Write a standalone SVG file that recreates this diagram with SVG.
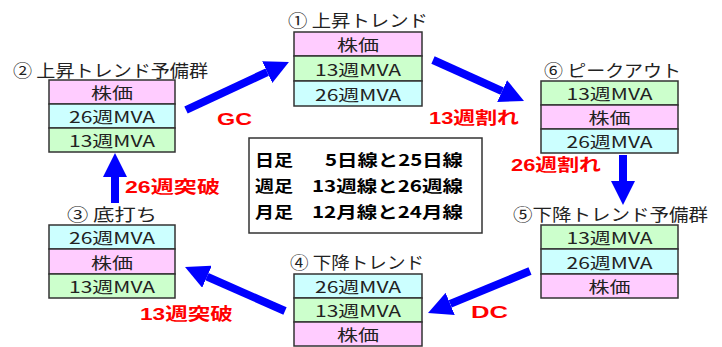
<svg xmlns="http://www.w3.org/2000/svg" width="722" height="347" viewBox="0 0 722 347">
<style>
.pk{fill:#FFCCFF;stroke:#333;stroke-width:1.5}
.gr{fill:#CCFFCC;stroke:#333;stroke-width:1.5}
.cy{fill:#CCFFFF;stroke:#333;stroke-width:1.5}
.bt{font-family:"Noto Sans CJK JP","Noto Sans",sans-serif;font-size:16px;fill:#222;text-anchor:middle;dominant-baseline:central}
.lb{font-family:"Noto Sans CJK JP","Noto Sans",sans-serif;font-size:17px;fill:#222}
.rd{font-family:"Liberation Sans","Noto Sans CJK JP",sans-serif;font-size:17px;font-weight:bold;fill:#FF0000}
.ct{font-family:"Noto Sans CJK JP","Noto Sans",sans-serif;font-size:16px;font-weight:bold;fill:#000}
.ar{stroke:#0000FF;stroke-width:8;fill:none;marker-end:url(#ah)}
</style>
<defs>
<marker id="ah" viewBox="0 0 10 10" refX="0" refY="5" markerWidth="3" markerHeight="3" orient="auto" markerUnits="strokeWidth">
<path d="M0,0 L10,5 L0,10 z" fill="#0000FF"/>
</marker>
</defs>
<rect width="722" height="347" fill="#fff"/>

<g id="n1">
<text class="lb" x="288" y="27" textLength="140" lengthAdjust="spacingAndGlyphs">① 上昇トレンド</text>
<rect class="pk" x="294" y="32" width="128" height="24"/>
<rect class="gr" x="294" y="56" width="128" height="25"/>
<rect class="cy" x="294" y="81" width="128" height="25"/>
<text class="bt" x="358" y="44" textLength="42" lengthAdjust="spacingAndGlyphs">株価</text>
<text class="bt" x="358" y="68.5" textLength="86" lengthAdjust="spacingAndGlyphs">13週MVA</text>
<text class="bt" x="358" y="93.5" textLength="86" lengthAdjust="spacingAndGlyphs">26週MVA</text>
</g>

<g id="n2">
<text class="lb" x="13" y="77" textLength="195" lengthAdjust="spacingAndGlyphs">② 上昇トレンド予備群</text>
<rect class="pk" x="49" y="80" width="126" height="24"/>
<rect class="cy" x="49" y="104" width="126" height="24"/>
<rect class="gr" x="49" y="128" width="126" height="24"/>
<text class="bt" x="112" y="92" textLength="42" lengthAdjust="spacingAndGlyphs">株価</text>
<text class="bt" x="112" y="116" textLength="86" lengthAdjust="spacingAndGlyphs">26週MVA</text>
<text class="bt" x="112" y="140" textLength="86" lengthAdjust="spacingAndGlyphs">13週MVA</text>
</g>

<g id="n6">
<text class="lb" x="544" y="77" textLength="137" lengthAdjust="spacingAndGlyphs">⑥ ピークアウト</text>
<rect class="gr" x="541" y="81" width="137" height="24"/>
<rect class="pk" x="541" y="105" width="137" height="24"/>
<rect class="cy" x="541" y="129" width="137" height="24"/>
<text class="bt" x="609.5" y="93" textLength="86" lengthAdjust="spacingAndGlyphs">13週MVA</text>
<text class="bt" x="609.5" y="117" textLength="42" lengthAdjust="spacingAndGlyphs">株価</text>
<text class="bt" x="609.5" y="141" textLength="86" lengthAdjust="spacingAndGlyphs">26週MVA</text>
</g>

<g id="n5">
<text class="lb" x="513" y="221" textLength="195" lengthAdjust="spacingAndGlyphs">⑤下降トレンド予備群</text>
<rect class="gr" x="541" y="225" width="137" height="24"/>
<rect class="cy" x="541" y="249" width="137" height="25"/>
<rect class="pk" x="541" y="274" width="137" height="24"/>
<text class="bt" x="609.5" y="237" textLength="86" lengthAdjust="spacingAndGlyphs">13週MVA</text>
<text class="bt" x="609.5" y="261.5" textLength="86" lengthAdjust="spacingAndGlyphs">26週MVA</text>
<text class="bt" x="609.5" y="286" textLength="42" lengthAdjust="spacingAndGlyphs">株価</text>
</g>

<g id="n4">
<text class="lb" x="290" y="269" textLength="134" lengthAdjust="spacingAndGlyphs">④ 下降トレンド</text>
<rect class="cy" x="294" y="274" width="128" height="24"/>
<rect class="gr" x="294" y="298" width="128" height="24"/>
<rect class="pk" x="294" y="322" width="128" height="24"/>
<text class="bt" x="358" y="286" textLength="86" lengthAdjust="spacingAndGlyphs">26週MVA</text>
<text class="bt" x="358" y="310" textLength="86" lengthAdjust="spacingAndGlyphs">13週MVA</text>
<text class="bt" x="358" y="334" textLength="42" lengthAdjust="spacingAndGlyphs">株価</text>
</g>

<g id="n3">
<text class="lb" x="67" y="221" textLength="90" lengthAdjust="spacingAndGlyphs">③ 底打ち</text>
<rect class="cy" x="49" y="225" width="126" height="24"/>
<rect class="pk" x="49" y="249" width="126" height="25"/>
<rect class="gr" x="49" y="274" width="126" height="24"/>
<text class="bt" x="112" y="237" textLength="86" lengthAdjust="spacingAndGlyphs">26週MVA</text>
<text class="bt" x="112" y="261.5" textLength="42" lengthAdjust="spacingAndGlyphs">株価</text>
<text class="bt" x="112" y="286" textLength="86" lengthAdjust="spacingAndGlyphs">13週MVA</text>
</g>

<g id="legend">
<rect x="249" y="138" width="233" height="95" fill="#fff" stroke="#333" stroke-width="1.5"/>
<text class="ct" x="255" y="166" textLength="38" lengthAdjust="spacingAndGlyphs">日足</text>
<text class="ct" x="325" y="166" textLength="138" lengthAdjust="spacingAndGlyphs">5日線と25日線</text>
<text class="ct" x="255" y="192" textLength="38" lengthAdjust="spacingAndGlyphs">週足</text>
<text class="ct" x="312" y="192" textLength="151" lengthAdjust="spacingAndGlyphs">13週線と26週線</text>
<text class="ct" x="255" y="218" textLength="38" lengthAdjust="spacingAndGlyphs">月足</text>
<text class="ct" x="312" y="218" textLength="151" lengthAdjust="spacingAndGlyphs">12月線と24月線</text>
</g>

<g id="connectors">
<line class="ar" x1="186" y1="110" x2="267.2" y2="72.1"/>
<line class="ar" x1="433" y1="60" x2="502.1" y2="91.1"/>
<line class="ar" x1="623" y1="155" x2="623" y2="181"/>
<line class="ar" x1="530" y1="271" x2="450.2" y2="303.9"/>
<line class="ar" x1="285" y1="311" x2="207" y2="276.7"/>
<line class="ar" x1="115" y1="203" x2="115" y2="177"/>
<text class="rd" x="217" y="125" textLength="35" lengthAdjust="spacingAndGlyphs">GC</text>
<text class="rd" x="429" y="124" textLength="90" lengthAdjust="spacingAndGlyphs">13週割れ</text>
<text class="rd" x="511" y="171" textLength="90" lengthAdjust="spacingAndGlyphs">26週割れ</text>
<text class="rd" x="125" y="193" textLength="95" lengthAdjust="spacingAndGlyphs">26週突破</text>
<text class="rd" x="471" y="318" textLength="37" lengthAdjust="spacingAndGlyphs">DC</text>
<text class="rd" x="140" y="320" textLength="93" lengthAdjust="spacingAndGlyphs">13週突破</text>
</g>
</svg>
